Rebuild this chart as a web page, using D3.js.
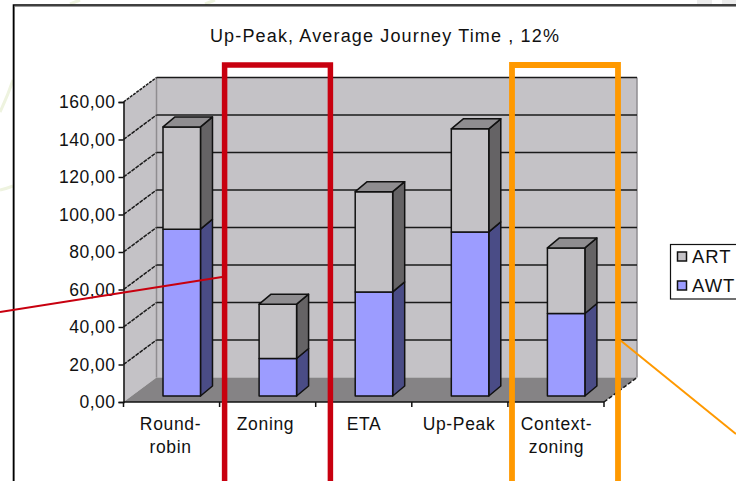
<!DOCTYPE html>
<html>
<head>
<meta charset="utf-8">
<script src="https://cdn.jsdelivr.net/npm/d3@7"></script>
<style>
html,body{margin:0;padding:0;background:#fff;overflow:hidden}
svg{display:block}
text{font-family:"Liberation Sans",Arial,sans-serif;fill:#111}
</style>
</head>
<body>
<svg id="chart" width="736" height="481"></svg>
<script>
const categories = [["Round-","robin"],["Zoning"],["ETA"],["Up-Peak"],["Context-","zoning"]];
const awtValues = [89, 20, 55.5, 87.5, 44];
const artValues = [54.5, 29, 53.5, 55, 35];
const yTicks = [0,20,40,60,80,100,120,140,160];
const legendItems = ["ART","AWT"];
const titleText = "Up-Peak, Average Journey Time , 12%";

const svg = d3.select("#chart");

// Front plane of the plot and the oblique offset of the back wall
const plotLeft = 123.5, plotRight = 604, plotBase = 402, plotTop = 102;
const depthX = 33, depthY = -24.5;
// Bars sit part-way into the floor and have their own depth
const barInX = 10.2, barInY = -6, barDX = 12, barDY = -10;

const x = d3.scaleBand().domain(d3.range(categories.length)).range([plotLeft, plotRight]).paddingInner(0.61).paddingOuter(0.305);
const y = d3.scaleLinear().domain([0,160]).range([plotBase, plotTop]);
const fmt = v => d3.format(".2f")(v).replace(".", ",");

const poly = pts => "M" + pts.map(p => p.join(",")).join("L") + "Z";

// Decorative page background outside the chart frame
const deco = svg.append("g").attr("fill","none").attr("stroke","#eef3df").attr("stroke-width",3);
deco.append("path").attr("d","M0,112 Q8,95 13,80");
deco.append("path").attr("d","M0,190 Q8,188 13,186");
svg.append("path").attr("d","M70,4L80,0").attr("stroke","#eef3df").attr("stroke-width",3);
svg.append("path").attr("d","M205,4L215,0").attr("stroke","#eef3df").attr("stroke-width",3);
svg.append("rect").attr("x",697).attr("y",0).attr("width",15).attr("height",4).attr("fill","#ececec");
svg.append("rect").attr("x",722).attr("y",0).attr("width",14).attr("height",4).attr("fill","#ececec");
// Chart frame: dark edge with a soft grey inner line
svg.append("rect").attr("x",14.5).attr("y",6.5).attr("width",730).attr("height",490)
  .attr("fill","#fff").attr("stroke","#999").attr("stroke-width",1);
svg.append("path").attr("d","M13.5,490V5H736").attr("fill","none").attr("stroke","#000").attr("stroke-width",1.6);

// Title
svg.append("text").attr("x",385).attr("y",42).attr("text-anchor","middle")
  .attr("font-size",18).attr("letter-spacing",1.15).text(titleText);

// Walls and floor
const wallColor = "#c4c2c6", floorColor = "#858385";
svg.append("path").attr("d",poly([[plotLeft,plotBase],[plotLeft+depthX,plotBase+depthY],[plotRight+depthX,plotBase+depthY],[plotRight+depthX,plotTop+depthY],[plotLeft+depthX,plotTop+depthY],[plotLeft,plotTop]]))
  .attr("fill",wallColor);
svg.append("path").attr("d",poly([[plotLeft,plotBase],[plotLeft+depthX,plotBase+depthY],[plotRight+depthX,plotBase+depthY],[plotRight,plotBase]]))
  .attr("fill",floorColor);
svg.append("path").attr("d",`M${plotLeft+depthX},${plotTop+depthY}V${plotBase+depthY}`).attr("stroke","#8f8d90").attr("stroke-width",1.5);
svg.append("path").attr("d",`M${plotRight+depthX},${plotTop+depthY}V${plotBase+depthY}`).attr("stroke","#8f8d90").attr("stroke-width",1.5);

// Gridlines run along the side wall and across the back wall
const grid = svg.append("g").attr("fill","none").attr("stroke","#1a1a1a").attr("stroke-width",1.5);
yTicks.forEach(t => {
  if (t === 0) return;
  const yy = y(t);
  grid.append("path").attr("d",`M${plotLeft},${yy}L${plotLeft+depthX},${yy+depthY}`).attr("stroke-dasharray", t===160 ? "3,1" : "4,1");
  grid.append("path").attr("d",`M${plotLeft+depthX},${yy+depthY}H${plotRight+depthX}`);
});
svg.append("path").attr("d",`M${plotRight},${plotBase}L${plotRight+depthX},${plotBase+depthY}`)
  .attr("stroke","#1a1a1a").attr("stroke-width",1.5).attr("stroke-dasharray","4,2");

// Stacked bars with front, side and top faces
const seriesColors = [
  {front:"#9c9cff", side:"#4a4c86"},
  {front:"#c4c2c6", side:"#656365", top:"#8f8d90"}
];
const bars = svg.append("g").attr("stroke","#111").attr("stroke-width",1.5).attr("stroke-linejoin","round");
categories.forEach((c,i) => {
  const x0 = x(i)+barInX, x1 = x0 + x.bandwidth();
  const yOf = v => y(v)+barInY;
  const stack = [[0, awtValues[i]], [awtValues[i], awtValues[i]+artValues[i]]];
  stack.forEach((s,k) => {
    const yb = yOf(s[0]), yt = yOf(s[1]), col = seriesColors[k];
    bars.append("path").attr("d",poly([[x1,yb],[x1+barDX,yb+barDY],[x1+barDX,yt+barDY],[x1,yt]])).attr("fill",col.side);
    bars.append("path").attr("d",poly([[x0,yb],[x1,yb],[x1,yt],[x0,yt]])).attr("fill",col.front);
    if (col.top) bars.append("path").attr("d",poly([[x0,yt],[x0+barDX,yt+barDY],[x1+barDX,yt+barDY],[x1,yt]])).attr("fill",col.top);
  });
});

// Value axis
const yAxis = svg.append("g").attr("transform",`translate(${plotLeft},0)`)
  .call(d3.axisLeft(y).tickValues(yTicks).tickFormat(fmt).tickSize(5).tickPadding(3));
yAxis.select(".domain").attr("stroke","#111").attr("stroke-width",1.5);
yAxis.selectAll(".tick line").attr("stroke","#111").attr("stroke-width",1.5);
yAxis.selectAll("text").attr("font-size",17.5).attr("letter-spacing",0.5)
  .attr("font-family",'"Liberation Sans",Arial,sans-serif').attr("fill","#111");

// Category axis, ticks between the bars
const edges = d3.range(categories.length+1).map(i => plotLeft + i*(plotRight-plotLeft)/categories.length);
const xLine = svg.append("g").attr("stroke","#111").attr("stroke-width",1.5);
xLine.append("path").attr("d",`M${plotLeft},${plotBase}H${plotRight}`);
edges.forEach(e => xLine.append("path").attr("d",`M${e},${plotBase}v5`));
const labelCenters = [170.5, 265.5, 364, 459, 556.5];
categories.forEach((c,i) => {
  const t = svg.append("text").attr("text-anchor","middle").attr("font-size",17.5).attr("letter-spacing",0.65).attr("y",430);
  c.forEach((line,j) => t.append("tspan").attr("x",labelCenters[i]).attr("dy", j ? 23 : 0).text(line));
});

// Legend, clipped by the edge of the page
svg.append("rect").attr("x",670.5).attr("y",244.5).attr("width",80).attr("height",54.5)
  .attr("fill","#fff").attr("stroke","#111").attr("stroke-width",1.2);
legendItems.forEach((name,i) => {
  const yy = 252 + i*29;
  svg.append("rect").attr("x",677.5).attr("y",yy).attr("width",9).attr("height",9)
    .attr("fill",i ? seriesColors[0].front : seriesColors[1].front).attr("stroke","#111").attr("stroke-width",1.5);
  svg.append("text").attr("x",692).attr("y",yy+11).attr("font-size",18.5).attr("letter-spacing",1).text(name);
});

// Highlight boxes and their leader lines
svg.append("path").attr("d","M224.6,490V65H330.4V490").attr("fill","none").attr("stroke","#c8000f").attr("stroke-width",5.5);
svg.append("path").attr("d","M0,312L222,277").attr("stroke","#c8000f").attr("stroke-width",2);
svg.append("path").attr("d","M512,490V65H618V490").attr("fill","none").attr("stroke","#ff9900").attr("stroke-width",5.8);
svg.append("path").attr("d","M620,340L736,434").attr("stroke","#ff9900").attr("stroke-width",2);
</script>
</body>
</html>
